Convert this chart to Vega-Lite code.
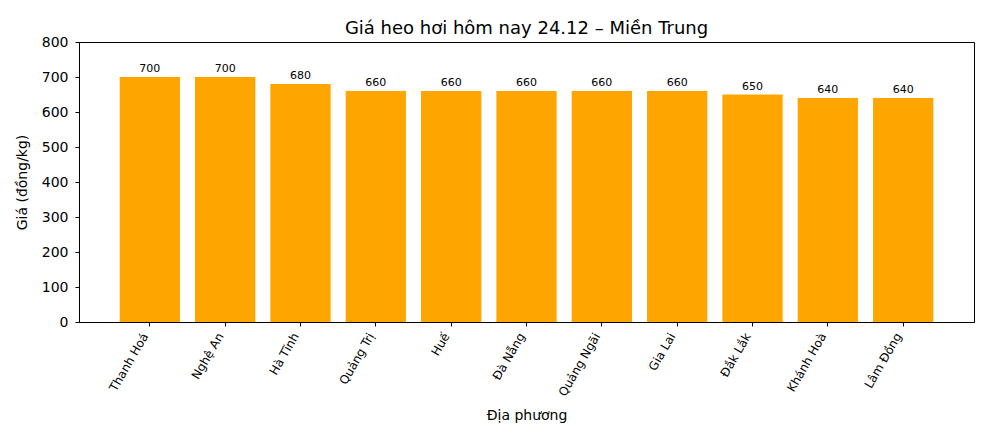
{
  "$schema": "https://vega.github.io/schema/vega-lite/v6.json",
  "width": 895,
  "height": 280,
  "autosize": {"type": "none"},
  "padding": {"left": 79, "top": 42, "right": 16, "bottom": 118},
  "background": "white",
  "title": {
    "text": "Giá heo hơi hôm nay 24.12 – Miền Trung",
    "font": "DejaVu Sans",
    "fontSize": 18,
    "fontWeight": "normal",
    "color": "black",
    "offset": -3
  },
  "config": {
    "view": {"stroke": "black", "strokeWidth": 1},
    "font": "DejaVu Sans"
  },
  "data": {
    "values": [
      {"tinh": "Thanh Hoá", "gia": 700},
      {"tinh": "Nghệ An", "gia": 700},
      {"tinh": "Hà Tĩnh", "gia": 680},
      {"tinh": "Quảng Trị", "gia": 660},
      {"tinh": "Huế", "gia": 660},
      {"tinh": "Đà Nẵng", "gia": 660},
      {"tinh": "Quảng Ngãi", "gia": 660},
      {"tinh": "Gia Lai", "gia": 660},
      {"tinh": "Đắk Lắk", "gia": 650},
      {"tinh": "Khánh Hoà", "gia": 640},
      {"tinh": "Lâm Đồng", "gia": 640}
    ]
  },
  "encoding": {
    "x": {
      "field": "tinh",
      "type": "nominal",
      "sort": null,
      "scale": {"paddingInner": 0.2, "paddingOuter": 0.54},
      "axis": {
        "title": "Địa phương",
        "titleFont": "DejaVu Sans",
        "titleFontSize": 14,
        "titleFontWeight": "normal",
        "titleColor": "black",
        "titlePadding": 11,
        "labelAngle": -60,
        "labelAlign": "right",
        "labelBaseline": "top",
        "labelOffset": -9,
        "labelFontSize": 12,
        "labelColor": "black",
        "labelPadding": 5,
        "domainColor": "black",
        "tickColor": "black",
        "tickSize": 4,
        "grid": false
      }
    },
    "y": {
      "field": "gia",
      "type": "quantitative",
      "scale": {"domain": [0, 800], "nice": false},
      "axis": {
        "title": "Giá (đồng/kg)",
        "titleFont": "DejaVu Sans",
        "titleFontSize": 14,
        "titleFontWeight": "normal",
        "titleColor": "black",
        "titlePadding": 12,
        "values": [0, 100, 200, 300, 400, 500, 600, 700, 800],
        "labelFontSize": 14,
        "labelColor": "black",
        "labelPadding": 7,
        "domainColor": "black",
        "tickColor": "black",
        "tickSize": 4,
        "grid": false
      }
    }
  },
  "layer": [
    {"mark": {"type": "bar", "color": "#FFA500"}},
    {
      "mark": {"type": "text", "baseline": "bottom", "dy": -3, "fontSize": 11, "color": "black", "font": "DejaVu Sans"},
      "encoding": {"text": {"field": "gia", "type": "quantitative"}}
    }
  ]
}
